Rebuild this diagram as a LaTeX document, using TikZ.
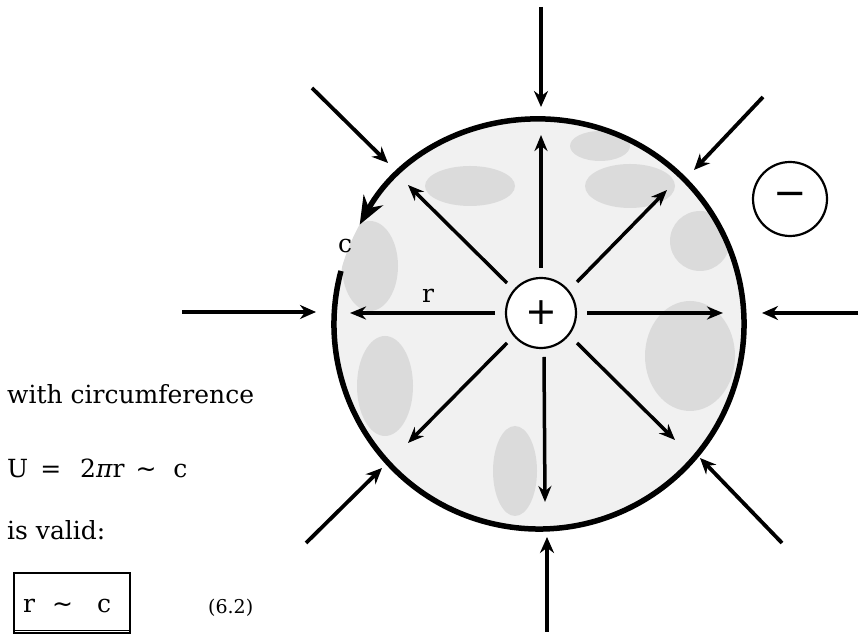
\documentclass[tikz,border=0pt]{standalone}
\usepackage{fontspec}
\setmainfont{DejaVu Serif}
\newfontfamily\symf{DejaVu Sans}
\usetikzlibrary{arrows.meta}
\begin{document}
\begin{tikzpicture}[x=1pt,y=1pt,
  arr/.style={line width=3.8pt,-{Stealth[length=16pt,width=14pt]}},
  iarr/.style={line width=3.5pt,-{Stealth[length=16pt,width=13pt]}},
  lbl/.style={font=\fontsize{25}{28}\selectfont, inner sep=0pt},
  txt/.style={font=\fontsize{25}{28}\selectfont, anchor=base west, inner sep=0pt},
  blob/.style={fill=gray!45, opacity=0.5}]
\useasboundingbox (0,0) rectangle (861,636);
% big disc with stippled shading
\coordinate (C) at (539,312);
\begin{scope}
  \clip (C) circle (205);
  \fill[gray!11] (C) circle (205);
  \fill[blob] (370,370) ellipse (28 and 45);
  \fill[blob] (690,280) ellipse (45 and 55);
  \fill[blob] (700,395) ellipse (30 and 30);
  \fill[blob] (470,450) ellipse (45 and 20);
  \fill[blob] (630,450) ellipse (45 and 22);
  \fill[blob] (385,250) ellipse (28 and 50);
  \fill[blob] (515,165) ellipse (22 and 45);
  \fill[blob] (600,490) ellipse (30 and 15);
\end{scope}
% thick circumference with arrow
\draw[line width=5.5pt,-{Stealth[length=28pt,width=22pt]}]
  ([shift={(165:205)}]C) arc[start angle=165,end angle=511,radius=205];
% centre charge and negative charge
\node[circle, draw, line width=2.2pt, minimum size=70pt, inner sep=0pt, fill=white,
      font=\symf\fontsize{38}{40}\selectfont] (plus) at (541,323) {+};
\node[circle, draw, line width=2.2pt, minimum size=74pt, inner sep=0pt,
      font=\symf\fontsize{40}{40}\selectfont] (minus) at (790,437) {−};
% inner arrows
\coordinate (iE0) at (587,323); \coordinate (iE1) at (723,323);
\coordinate (iW0) at (495,323); \coordinate (iW1) at (350,323);
\coordinate (iN0) at (541,368); \coordinate (iN1) at (541,501);
\coordinate (iS0) at (544,279); \coordinate (iS1) at (545,134);
\coordinate (iNE0) at (577,354); \coordinate (iNE1) at (667,446);
\coordinate (iNW0) at (507,353); \coordinate (iNW1) at (408,451);
\coordinate (iSW0) at (507,293); \coordinate (iSW1) at (408,193);
\coordinate (iSE0) at (577,293); \coordinate (iSE1) at (675,196);
\foreach \d in {E,W,N,S,NE,NW,SW,SE}{\draw[iarr] (i\d0) -- (i\d1);}
% outer arrows
\coordinate (oN0) at (541,629); \coordinate (oN1) at (541,529);
\coordinate (oS0) at (547,4);   \coordinate (oS1) at (547,99);
\coordinate (oW0) at (182,324); \coordinate (oW1) at (316,324);
\coordinate (oE0) at (858,323); \coordinate (oE1) at (762,323);
\coordinate (oNW0) at (312,548); \coordinate (oNW1) at (388,473);
\coordinate (oNE0) at (763,539); \coordinate (oNE1) at (694,466);
\coordinate (oSW0) at (306,93);  \coordinate (oSW1) at (382,168);
\coordinate (oSE0) at (782,93);  \coordinate (oSE1) at (700,178);
\foreach \d in {N,S,W,E,NW,NE,SW,SE}{\draw[arr] (o\d0) -- (o\d1);}
% labels
\node[lbl] (lr) at (428,340) {r};
\node[lbl] (lc) at (345,390) {c};
% text at left
\node[txt] (t1) at (7,232) {with circumference};
\node[txt] (t2) at (7,158) {U\hspace{12pt}=\hspace{19pt}2{\itshape π}r\hspace{11pt}{\symf ∼}\hspace{17pt}c};
\node[txt] (t3) at (7,96) {is valid:};
\node[draw, line width=1.4pt, minimum width=116pt, minimum height=60pt, inner sep=0pt] (box) at (72,33) {};
\draw[line width=1.3pt] ([yshift=3.5pt]box.south west) -- ([yshift=3.5pt]box.south east);
\node[txt] (t4) at (23,23) {r\hspace{17pt}{\symf ∼}\hspace{24pt}c};
\node[txt, font=\fontsize{19}{22}\selectfont] (eq) at (208,22) {(6.2)};
\end{tikzpicture}
\end{document}
